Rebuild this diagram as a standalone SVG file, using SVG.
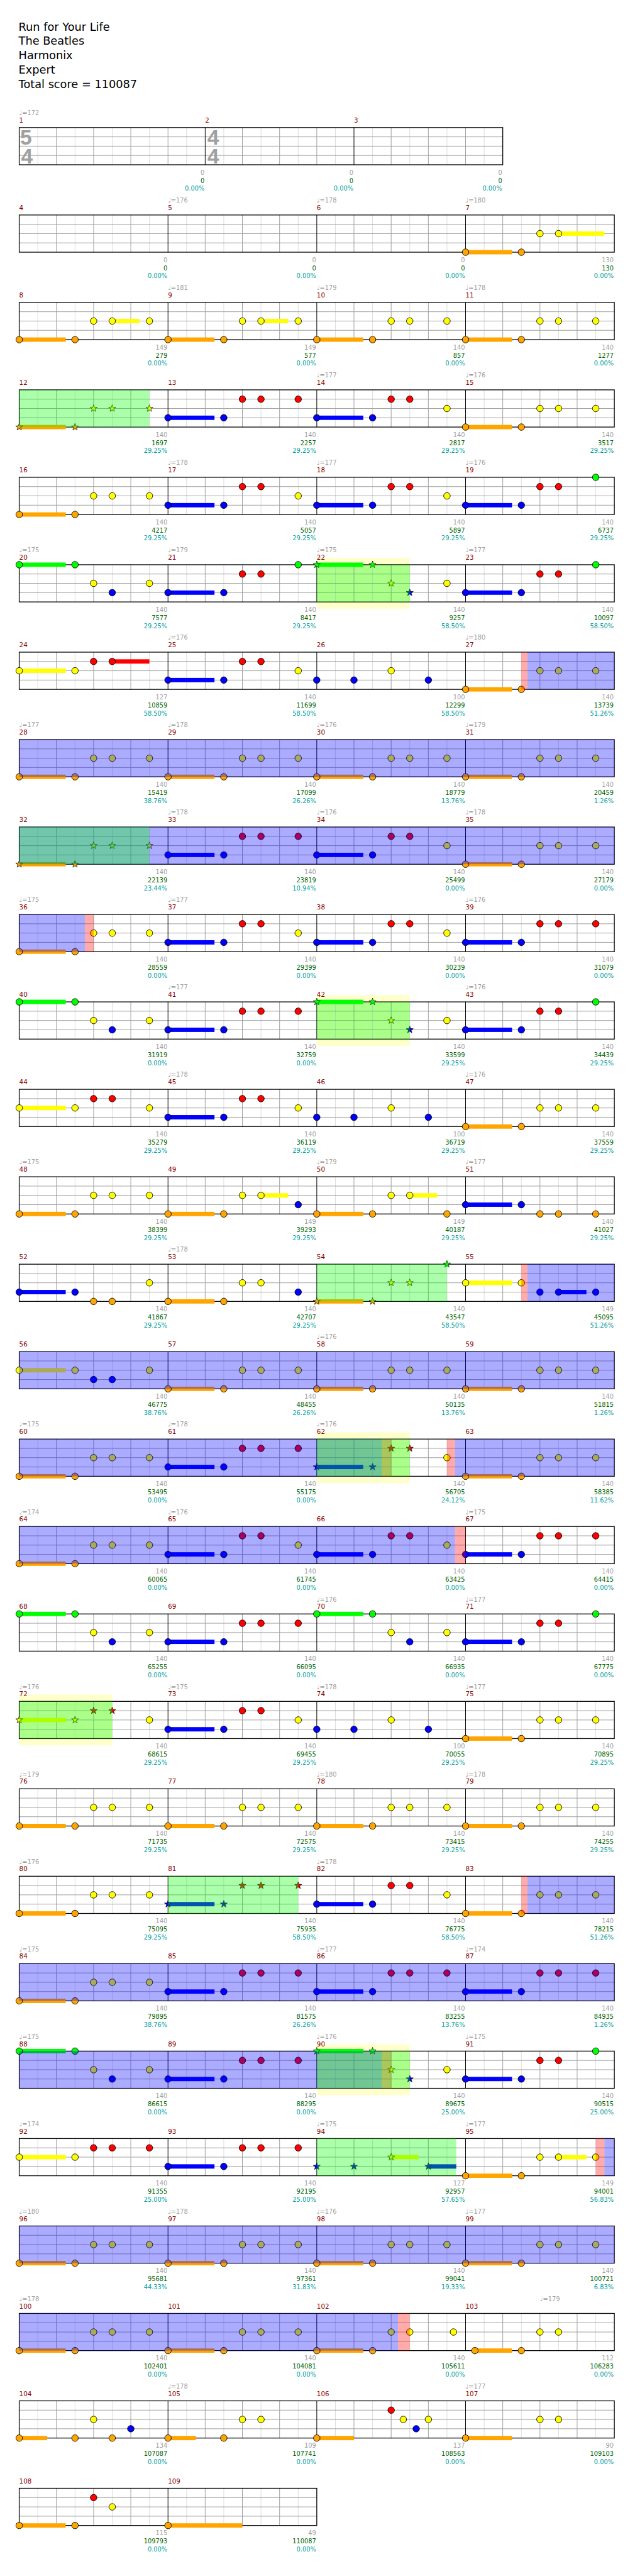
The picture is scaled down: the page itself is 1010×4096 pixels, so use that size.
<svg xmlns="http://www.w3.org/2000/svg" xmlns:xlink="http://www.w3.org/1999/xlink" width="1010" height="4096" viewBox="0 0 1010 4096">
<style>
text{font-family:"DejaVu Sans","Liberation Sans",sans-serif}
.ti{font-size:18px;fill:#000}
.t{font-size:10px;fill:#a0a0a0}
.mn{font-size:10.5px;fill:#8b0000}
.s1,.s2,.s3{font-size:10px;text-anchor:end}
.s1{fill:#a0a0a0}.s2{fill:#006400}.s3{fill:#00a0a0}
.ts{font-family:"Liberation Sans",sans-serif;font-weight:bold;font-size:34px;fill:#a0a0a0;text-anchor:middle}
.oG{fill:#00ff00;fill-opacity:.33}
.oB{fill:#0000ff;fill-opacity:.33}
.oR{fill:#ff0000;fill-opacity:.33}
.yl{fill:#ffffcc}
</style>
<defs>
<circle id="G" r="5.3" fill="#00ff00" stroke="#000" stroke-width=".9"/>
<circle id="R" r="5.3" fill="#ff0000" stroke="#000" stroke-width=".9"/>
<circle id="Y" r="5.3" fill="#ffff00" stroke="#000" stroke-width=".9"/>
<circle id="B" r="5.3" fill="#0000ff" stroke="#000" stroke-width=".9"/>
<circle id="O" r="5.3" fill="#ffa500" stroke="#000" stroke-width=".9"/>
<path id="sG" d="M0-6L1.41-1.94 5.71-1.85 2.28.74 3.53 4.85 0 2.4-3.53 4.85-2.28.74-5.71-1.85-1.41-1.94Z" fill="#00ff00" stroke="#000" stroke-width=".7"/>
<path id="sR" d="M0-6L1.41-1.94 5.71-1.85 2.28.74 3.53 4.85 0 2.4-3.53 4.85-2.28.74-5.71-1.85-1.41-1.94Z" fill="#ff0000" stroke="#000" stroke-width=".7"/>
<path id="sY" d="M0-6L1.41-1.94 5.71-1.85 2.28.74 3.53 4.85 0 2.4-3.53 4.85-2.28.74-5.71-1.85-1.41-1.94Z" fill="#ffff00" stroke="#000" stroke-width=".7"/>
<path id="sB" d="M0-6L1.41-1.94 5.71-1.85 2.28.74 3.53 4.85 0 2.4-3.53 4.85-2.28.74-5.71-1.85-1.41-1.94Z" fill="#0000ff" stroke="#000" stroke-width=".7"/>
<path id="sO" d="M0-6L1.41-1.94 5.71-1.85 2.28.74 3.53 4.85 0 2.4-3.53 4.85-2.28.74-5.71-1.85-1.41-1.94Z" fill="#ffa500" stroke="#000" stroke-width=".7"/>
<g id="st4">
<path d="M61 0V60M121 0V60M181 0V60M241 0V60M301 0V60M361 0V60M421 0V60M481 0V60M541 0V60M601 0V60M661 0V60M721 0V60M781 0V60M841 0V60M901 0V60M961 0V60" stroke="#dcdcdc" fill="none"/>
<path d="M91 0V60M151 0V60M211 0V60M331 0V60M391 0V60M451 0V60M571 0V60M631 0V60M691 0V60M811 0V60M871 0V60M931 0V60M31 15H991M31 30H991M31 45H991" stroke="#a0a0a0" fill="none"/>
<path d="M271 0V60M511 0V60M751 0V60" stroke="#000" fill="none"/>
<rect x="31" y="0" width="960" height="60" fill="none" stroke="#000" stroke-width="1.3"/>
</g>
<g id="st0">
<path d="M61 0V60M121 0V60M181 0V60M241 0V60M301 0V60M361 0V60M421 0V60M481 0V60M541 0V60M601 0V60M661 0V60M721 0V60M781 0V60" stroke="#dcdcdc" fill="none"/>
<path d="M91 0V60M151 0V60M211 0V60M271 0V60M391 0V60M451 0V60M511 0V60M631 0V60M691 0V60M751 0V60M31 15H811M31 30H811M31 45H811" stroke="#a0a0a0" fill="none"/>
<path d="M331 0V60M571 0V60" stroke="#000" fill="none"/>
<rect x="31" y="0" width="780" height="60" fill="none" stroke="#000" stroke-width="1.3"/>
</g>
<g id="st27">
<path d="M61 0V60M121 0V60M181 0V60M241 0V60M301 0V60M361 0V60M421 0V60M481 0V60" stroke="#dcdcdc" fill="none"/>
<path d="M91 0V60M151 0V60M211 0V60M331 0V60M391 0V60M451 0V60M31 15H511M31 30H511M31 45H511" stroke="#a0a0a0" fill="none"/>
<path d="M271 0V60" stroke="#000" fill="none"/>
<rect x="31" y="0" width="480" height="60" fill="none" stroke="#000" stroke-width="1.3"/>
</g>
<g id="pA"><rect x="0" y="56.5" width="75" height="7" fill="#ffa500"/><use href="#O" y="60"/><use href="#O" x="90" y="60"/><use href="#Y" x="120" y="30"/><use href="#Y" x="150" y="30"/><use href="#Y" x="210" y="30"/></g>
<g id="pAy"><rect x="0" y="56.5" width="75" height="7" fill="#ffa500"/><rect x="150" y="26.5" width="44" height="7" fill="#ffff00"/><use href="#O" y="60"/><use href="#O" x="90" y="60"/><use href="#Y" x="120" y="30"/><use href="#Y" x="150" y="30"/><use href="#Y" x="210" y="30"/></g>
<g id="pB"><rect x="0" y="41.5" width="75" height="7" fill="#0000ff"/><use href="#B" y="45"/><use href="#B" x="90" y="45"/><use href="#R" x="120" y="15"/><use href="#R" x="150" y="15"/><use href="#R" x="210" y="15"/></g>
<g id="pC"><rect x="0" y="41.5" width="75" height="7" fill="#0000ff"/><use href="#B" y="45"/><use href="#B" x="90" y="45"/><use href="#R" x="120" y="15"/><use href="#R" x="150" y="15"/><use href="#Y" x="210" y="30"/></g>
<g id="pD"><rect x="0" y="41.5" width="75" height="7" fill="#0000ff"/><use href="#B" y="45"/><use href="#B" x="90" y="45"/><use href="#R" x="120" y="15"/><use href="#R" x="150" y="15"/><use href="#G" x="210" y="0"/></g>
<g id="pE"><rect x="0" y="-3.5" width="75" height="7" fill="#00ff00"/><use href="#G"/><use href="#G" x="90"/><use href="#Y" x="120" y="30"/><use href="#B" x="150" y="45"/><use href="#Y" x="210" y="30"/></g>
<g id="pF"><use href="#B" y="45"/><use href="#B" x="60" y="45"/><use href="#Y" x="120" y="30"/><use href="#B" x="180" y="45"/></g>
<g id="pG"><rect x="0" y="26.5" width="75" height="7" fill="#ffff00"/><use href="#Y" y="30"/><use href="#Y" x="90" y="30"/><use href="#R" x="120" y="15"/><use href="#R" x="150" y="15"/><use href="#Y" x="210" y="30"/></g>
<g id="sA"><rect x="0" y="56.5" width="75" height="7" fill="#ffa500"/><use href="#sO" y="60"/><use href="#sO" x="90" y="60"/><use href="#sY" x="120" y="30"/><use href="#sY" x="150" y="30"/><use href="#sY" x="210" y="30"/></g>
<g id="sE"><rect x="0" y="-3.5" width="75" height="7" fill="#00ff00"/><use href="#sG"/><use href="#sG" x="90"/><use href="#sY" x="120" y="30"/><use href="#sB" x="150" y="45"/><use href="#Y" x="210" y="30"/></g>
</defs>
<rect x="0" y="0" width="1010" height="4096" fill="#fff"/>
<g transform="scale(0.986)">
<g id="title">
<text class="ti" x="30" y="49.3">Run for Your Life</text>
<text class="ti" x="30" y="72.4">The Beatles</text>
<text class="ti" x="30" y="95.5">Harmonix</text>
<text class="ti" x="30" y="118.6">Expert</text>
<text class="ti" x="30" y="141.7">Total score = 110087</text>
</g>

<g id="row-1" transform="translate(0,205.7)">
<use href="#st0"/>
<text class="ts" x="42" y="27.5">5</text><text class="ts" x="43.5" y="57.5">4</text>
<text class="ts" x="344" y="27.5">4</text><text class="ts" x="344" y="57.5">4</text>
<text class="t" x="31" y="-20">♩=172</text>
<text class="mn" x="31" y="-8">1</text><text class="mn" x="331" y="-8">2</text><text class="mn" x="571" y="-8">3</text>
<text class="s1" x="330" y="76">0</text><text class="s2" x="330" y="89">0</text><text class="s3" x="330" y="102">0.00%</text>
<text class="s1" x="570" y="76">0</text><text class="s2" x="570" y="89">0</text><text class="s3" x="570" y="102">0.00%</text>
<text class="s1" x="810" y="76">0</text><text class="s2" x="810" y="89">0</text><text class="s3" x="810" y="102">0.00%</text>
</g>

<g id="row-2" transform="translate(0,346.7)">
<use href="#st4"/>
<rect x="751" y="56.5" width="75" height="7" fill="#ffa500"/><rect x="901" y="26.5" width="74" height="7" fill="#ffff00"/>
<use href="#O" x="751" y="60"/><use href="#O" x="841" y="60"/><use href="#Y" x="871" y="30"/><use href="#Y" x="901" y="30"/>
<text class="t" x="271" y="-20">♩=176</text><text class="t" x="511" y="-20">♩=178</text><text class="t" x="751" y="-20">♩=180</text>
<text class="mn" x="31" y="-8">4</text><text class="mn" x="271" y="-8">5</text><text class="mn" x="511" y="-8">6</text><text class="mn" x="751" y="-8">7</text>
<text class="s1" x="270" y="76">0</text><text class="s2" x="270" y="89">0</text><text class="s3" x="270" y="102">0.00%</text>
<text class="s1" x="510" y="76">0</text><text class="s2" x="510" y="89">0</text><text class="s3" x="510" y="102">0.00%</text>
<text class="s1" x="750" y="76">0</text><text class="s2" x="750" y="89">0</text><text class="s3" x="750" y="102">0.00%</text>
<text class="s1" x="990" y="76">130</text><text class="s2" x="990" y="89">130</text><text class="s3" x="990" y="102">0.00%</text>
</g>

<g id="row-3" transform="translate(0,487.7)">
<use href="#st4"/>
<use href="#pAy" x="31"/><use href="#pAy" x="271"/><use href="#pA" x="511"/><use href="#pA" x="751"/>
<text class="t" x="271" y="-20">♩=181</text><text class="t" x="511" y="-20">♩=179</text><text class="t" x="751" y="-20">♩=178</text>
<text class="mn" x="31" y="-8">8</text><text class="mn" x="271" y="-8">9</text><text class="mn" x="511" y="-8">10</text><text class="mn" x="751" y="-8">11</text>
<text class="s1" x="270" y="76">149</text><text class="s2" x="270" y="89">279</text><text class="s3" x="270" y="102">0.00%</text>
<text class="s1" x="510" y="76">149</text><text class="s2" x="510" y="89">577</text><text class="s3" x="510" y="102">0.00%</text>
<text class="s1" x="750" y="76">140</text><text class="s2" x="750" y="89">857</text><text class="s3" x="750" y="102">0.00%</text>
<text class="s1" x="990" y="76">140</text><text class="s2" x="990" y="89">1277</text><text class="s3" x="990" y="102">0.00%</text>
</g>

<g id="row-4" transform="translate(0,628.7)">
<use href="#st4"/>
<use href="#sA" x="31"/><use href="#pB" x="271"/><use href="#pC" x="511"/><use href="#pA" x="751"/>
<rect class="oG" x="31" y="0" width="210" height="60"/>
<text class="t" x="511" y="-20">♩=177</text><text class="t" x="751" y="-20">♩=176</text>
<text class="mn" x="31" y="-8">12</text><text class="mn" x="271" y="-8">13</text><text class="mn" x="511" y="-8">14</text><text class="mn" x="751" y="-8">15</text>
<text class="s1" x="270" y="76">140</text><text class="s2" x="270" y="89">1697</text><text class="s3" x="270" y="102">29.25%</text>
<text class="s1" x="510" y="76">140</text><text class="s2" x="510" y="89">2257</text><text class="s3" x="510" y="102">29.25%</text>
<text class="s1" x="750" y="76">140</text><text class="s2" x="750" y="89">2817</text><text class="s3" x="750" y="102">29.25%</text>
<text class="s1" x="990" y="76">140</text><text class="s2" x="990" y="89">3517</text><text class="s3" x="990" y="102">29.25%</text>
</g>

<g id="row-5" transform="translate(0,769.7)">
<use href="#st4"/>
<use href="#pA" x="31"/><use href="#pC" x="271"/><use href="#pC" x="511"/><use href="#pD" x="751"/>
<text class="t" x="271" y="-20">♩=178</text><text class="t" x="511" y="-20">♩=177</text><text class="t" x="751" y="-20">♩=176</text>
<text class="mn" x="31" y="-8">16</text><text class="mn" x="271" y="-8">17</text><text class="mn" x="511" y="-8">18</text><text class="mn" x="751" y="-8">19</text>
<text class="s1" x="270" y="76">140</text><text class="s2" x="270" y="89">4217</text><text class="s3" x="270" y="102">29.25%</text>
<text class="s1" x="510" y="76">140</text><text class="s2" x="510" y="89">5057</text><text class="s3" x="510" y="102">29.25%</text>
<text class="s1" x="750" y="76">140</text><text class="s2" x="750" y="89">5897</text><text class="s3" x="750" y="102">29.25%</text>
<text class="s1" x="990" y="76">140</text><text class="s2" x="990" y="89">6737</text><text class="s3" x="990" y="102">29.25%</text>
</g>

<g id="row-6" transform="translate(0,910.7)">
<rect class="yl" x="511" y="-11" width="150" height="82"/>
<use href="#st4"/>
<use href="#pE" x="31"/><use href="#pD" x="271"/><use href="#sE" x="511"/><use href="#pD" x="751"/>
<rect class="oG" x="511" y="0" width="150" height="60"/>
<text class="t" x="31" y="-20">♩=175</text><text class="t" x="271" y="-20">♩=179</text><text class="t" x="511" y="-20">♩=175</text><text class="t" x="751" y="-20">♩=177</text>
<text class="mn" x="31" y="-8">20</text><text class="mn" x="271" y="-8">21</text><text class="mn" x="511" y="-8">22</text><text class="mn" x="751" y="-8">23</text>
<text class="s1" x="270" y="76">140</text><text class="s2" x="270" y="89">7577</text><text class="s3" x="270" y="102">29.25%</text>
<text class="s1" x="510" y="76">140</text><text class="s2" x="510" y="89">8417</text><text class="s3" x="510" y="102">29.25%</text>
<text class="s1" x="750" y="76">140</text><text class="s2" x="750" y="89">9257</text><text class="s3" x="750" y="102">58.50%</text>
<text class="s1" x="990" y="76">140</text><text class="s2" x="990" y="89">10097</text><text class="s3" x="990" y="102">58.50%</text>
</g>

<g id="row-7" transform="translate(0,1051.7)">
<use href="#st4"/>
<rect x="31" y="26.5" width="75" height="7" fill="#ffff00"/><rect x="181" y="11.5" width="60" height="7" fill="#ff0000"/>
<use href="#Y" x="31" y="30"/><use href="#Y" x="121" y="30"/><use href="#R" x="151" y="15"/><use href="#R" x="181" y="15"/>
<use href="#pC" x="271"/><use href="#pF" x="511"/><use href="#pA" x="751"/>
<rect class="oR" x="841" y="0" width="10" height="60"/><rect class="oB" x="851" y="0" width="140" height="60"/>
<text class="t" x="271" y="-20">♩=176</text><text class="t" x="751" y="-20">♩=180</text>
<text class="mn" x="31" y="-8">24</text><text class="mn" x="271" y="-8">25</text><text class="mn" x="511" y="-8">26</text><text class="mn" x="751" y="-8">27</text>
<text class="s1" x="270" y="76">127</text><text class="s2" x="270" y="89">10859</text><text class="s3" x="270" y="102">58.50%</text>
<text class="s1" x="510" y="76">140</text><text class="s2" x="510" y="89">11699</text><text class="s3" x="510" y="102">58.50%</text>
<text class="s1" x="750" y="76">100</text><text class="s2" x="750" y="89">12299</text><text class="s3" x="750" y="102">58.50%</text>
<text class="s1" x="990" y="76">140</text><text class="s2" x="990" y="89">13739</text><text class="s3" x="990" y="102">51.26%</text>
</g>

<g id="row-8" transform="translate(0,1192.7)">
<use href="#st4"/>
<use href="#pA" x="31"/><use href="#pA" x="271"/><use href="#pA" x="511"/><use href="#pA" x="751"/>
<rect class="oB" x="31" y="0" width="960" height="60"/>
<text class="t" x="31" y="-20">♩=177</text><text class="t" x="271" y="-20">♩=178</text><text class="t" x="511" y="-20">♩=176</text><text class="t" x="751" y="-20">♩=179</text>
<text class="mn" x="31" y="-8">28</text><text class="mn" x="271" y="-8">29</text><text class="mn" x="511" y="-8">30</text><text class="mn" x="751" y="-8">31</text>
<text class="s1" x="270" y="76">140</text><text class="s2" x="270" y="89">15419</text><text class="s3" x="270" y="102">38.76%</text>
<text class="s1" x="510" y="76">140</text><text class="s2" x="510" y="89">17099</text><text class="s3" x="510" y="102">26.26%</text>
<text class="s1" x="750" y="76">140</text><text class="s2" x="750" y="89">18779</text><text class="s3" x="750" y="102">13.76%</text>
<text class="s1" x="990" y="76">140</text><text class="s2" x="990" y="89">20459</text><text class="s3" x="990" y="102">1.26%</text>
</g>

<g id="row-9" transform="translate(0,1333.7)">
<use href="#st4"/>
<use href="#sA" x="31"/><use href="#pB" x="271"/><use href="#pC" x="511"/><use href="#pA" x="751"/>
<rect class="oB" x="31" y="0" width="960" height="60"/><rect class="oG" x="31" y="0" width="210" height="60"/>
<text class="t" x="271" y="-20">♩=178</text><text class="t" x="511" y="-20">♩=176</text><text class="t" x="751" y="-20">♩=178</text>
<text class="mn" x="31" y="-8">32</text><text class="mn" x="271" y="-8">33</text><text class="mn" x="511" y="-8">34</text><text class="mn" x="751" y="-8">35</text>
<text class="s1" x="270" y="76">140</text><text class="s2" x="270" y="89">22139</text><text class="s3" x="270" y="102">23.44%</text>
<text class="s1" x="510" y="76">140</text><text class="s2" x="510" y="89">23819</text><text class="s3" x="510" y="102">10.94%</text>
<text class="s1" x="750" y="76">140</text><text class="s2" x="750" y="89">25499</text><text class="s3" x="750" y="102">0.00%</text>
<text class="s1" x="990" y="76">140</text><text class="s2" x="990" y="89">27179</text><text class="s3" x="990" y="102">0.00%</text>
</g>

<g id="row-10" transform="translate(0,1474.7)">
<use href="#st4"/>
<use href="#pA" x="31"/><use href="#pC" x="271"/><use href="#pC" x="511"/><use href="#pB" x="751"/>
<rect class="oB" x="31" y="0" width="106" height="60"/><rect class="oR" x="137" y="0" width="14" height="60"/>
<text class="t" x="31" y="-20">♩=175</text><text class="t" x="271" y="-20">♩=177</text><text class="t" x="751" y="-20">♩=176</text>
<text class="mn" x="31" y="-8">36</text><text class="mn" x="271" y="-8">37</text><text class="mn" x="511" y="-8">38</text><text class="mn" x="751" y="-8">39</text>
<text class="s1" x="270" y="76">140</text><text class="s2" x="270" y="89">28559</text><text class="s3" x="270" y="102">0.00%</text>
<text class="s1" x="510" y="76">140</text><text class="s2" x="510" y="89">29399</text><text class="s3" x="510" y="102">0.00%</text>
<text class="s1" x="750" y="76">140</text><text class="s2" x="750" y="89">30239</text><text class="s3" x="750" y="102">0.00%</text>
<text class="s1" x="990" y="76">140</text><text class="s2" x="990" y="89">31079</text><text class="s3" x="990" y="102">0.00%</text>
</g>

<g id="row-11" transform="translate(0,1615.7)">
<rect class="yl" x="511" y="-11" width="150" height="82"/>
<use href="#st4"/>
<use href="#pE" x="31"/><use href="#pB" x="271"/><use href="#sE" x="511"/><use href="#pD" x="751"/>
<rect class="oG" x="511" y="0" width="150" height="60"/>
<text class="t" x="271" y="-20">♩=177</text><text class="t" x="751" y="-20">♩=176</text>
<text class="mn" x="31" y="-8">40</text><text class="mn" x="271" y="-8">41</text><text class="mn" x="511" y="-8">42</text><text class="mn" x="751" y="-8">43</text>
<text class="s1" x="270" y="76">140</text><text class="s2" x="270" y="89">31919</text><text class="s3" x="270" y="102">0.00%</text>
<text class="s1" x="510" y="76">140</text><text class="s2" x="510" y="89">32759</text><text class="s3" x="510" y="102">0.00%</text>
<text class="s1" x="750" y="76">140</text><text class="s2" x="750" y="89">33599</text><text class="s3" x="750" y="102">29.25%</text>
<text class="s1" x="990" y="76">140</text><text class="s2" x="990" y="89">34439</text><text class="s3" x="990" y="102">29.25%</text>
</g>

<g id="row-12" transform="translate(0,1756.7)">
<use href="#st4"/>
<use href="#pG" x="31"/><use href="#pC" x="271"/><use href="#pF" x="511"/><use href="#pA" x="751"/>
<text class="t" x="271" y="-20">♩=178</text><text class="t" x="751" y="-20">♩=176</text>
<text class="mn" x="31" y="-8">44</text><text class="mn" x="271" y="-8">45</text><text class="mn" x="511" y="-8">46</text><text class="mn" x="751" y="-8">47</text>
<text class="s1" x="270" y="76">140</text><text class="s2" x="270" y="89">35279</text><text class="s3" x="270" y="102">29.25%</text>
<text class="s1" x="510" y="76">140</text><text class="s2" x="510" y="89">36119</text><text class="s3" x="510" y="102">29.25%</text>
<text class="s1" x="750" y="76">100</text><text class="s2" x="750" y="89">36719</text><text class="s3" x="750" y="102">29.25%</text>
<text class="s1" x="990" y="76">140</text><text class="s2" x="990" y="89">37559</text><text class="s3" x="990" y="102">29.25%</text>
</g>

<g id="row-13" transform="translate(0,1897.7)">
<use href="#st4"/>
<use href="#pA" x="31"/>
<rect x="271" y="56.5" width="75" height="7" fill="#ffa500"/><rect x="421" y="26.5" width="44" height="7" fill="#ffff00"/>
<use href="#O" x="271" y="60"/><use href="#O" x="361" y="60"/><use href="#Y" x="391" y="30"/><use href="#Y" x="421" y="30"/><use href="#B" x="481" y="45"/>
<rect x="511" y="56.5" width="75" height="7" fill="#ffa500"/><rect x="661" y="26.5" width="44" height="7" fill="#ffff00"/>
<use href="#O" x="511" y="60"/><use href="#O" x="601" y="60"/><use href="#Y" x="631" y="30"/><use href="#Y" x="661" y="30"/><use href="#O" x="721" y="60"/>
<rect x="751" y="41.5" width="75" height="7" fill="#0000ff"/>
<use href="#B" x="751" y="45"/><use href="#B" x="841" y="45"/><use href="#O" x="871" y="60"/><use href="#O" x="901" y="60"/><use href="#O" x="961" y="60"/>
<text class="t" x="31" y="-20">♩=175</text><text class="t" x="511" y="-20">♩=179</text><text class="t" x="751" y="-20">♩=177</text>
<text class="mn" x="31" y="-8">48</text><text class="mn" x="271" y="-8">49</text><text class="mn" x="511" y="-8">50</text><text class="mn" x="751" y="-8">51</text>
<text class="s1" x="270" y="76">140</text><text class="s2" x="270" y="89">38399</text><text class="s3" x="270" y="102">29.25%</text>
<text class="s1" x="510" y="76">149</text><text class="s2" x="510" y="89">39293</text><text class="s3" x="510" y="102">29.25%</text>
<text class="s1" x="750" y="76">149</text><text class="s2" x="750" y="89">40187</text><text class="s3" x="750" y="102">29.25%</text>
<text class="s1" x="990" y="76">140</text><text class="s2" x="990" y="89">41027</text><text class="s3" x="990" y="102">29.25%</text>
</g>

<g id="row-14" transform="translate(0,2038.7)">
<use href="#st4"/>
<rect x="31" y="41.5" width="75" height="7" fill="#0000ff"/>
<use href="#B" x="31" y="45"/><use href="#B" x="121" y="45"/><use href="#O" x="151" y="60"/><use href="#O" x="181" y="60"/><use href="#Y" x="241" y="30"/>
<rect x="271" y="56.5" width="75" height="7" fill="#ffa500"/>
<use href="#O" x="271" y="60"/><use href="#O" x="361" y="60"/><use href="#Y" x="391" y="30"/><use href="#Y" x="421" y="30"/><use href="#B" x="481" y="45"/>
<rect x="511" y="56.5" width="75" height="7" fill="#ffa500"/>
<use href="#sO" x="511" y="60"/><use href="#sO" x="601" y="60"/><use href="#sY" x="631" y="30"/><use href="#sY" x="661" y="30"/><use href="#sG" x="721" y="0"/>
<rect x="751" y="26.5" width="75" height="7" fill="#ffff00"/><rect x="901" y="41.5" width="45" height="7" fill="#0000ff"/>
<use href="#Y" x="751" y="30"/><use href="#Y" x="841" y="30"/><use href="#B" x="871" y="45"/><use href="#B" x="901" y="45"/><use href="#B" x="961" y="45"/>
<rect class="oG" x="511" y="0" width="210" height="60"/><rect class="oR" x="841" y="0" width="10" height="60"/><rect class="oB" x="851" y="0" width="140" height="60"/>
<text class="t" x="271" y="-20">♩=178</text>
<text class="mn" x="31" y="-8">52</text><text class="mn" x="271" y="-8">53</text><text class="mn" x="511" y="-8">54</text><text class="mn" x="751" y="-8">55</text>
<text class="s1" x="270" y="76">140</text><text class="s2" x="270" y="89">41867</text><text class="s3" x="270" y="102">29.25%</text>
<text class="s1" x="510" y="76">140</text><text class="s2" x="510" y="89">42707</text><text class="s3" x="510" y="102">29.25%</text>
<text class="s1" x="750" y="76">140</text><text class="s2" x="750" y="89">43547</text><text class="s3" x="750" y="102">58.50%</text>
<text class="s1" x="990" y="76">149</text><text class="s2" x="990" y="89">45095</text><text class="s3" x="990" y="102">51.26%</text>
</g>

<g id="row-15" transform="translate(0,2179.7)">
<use href="#st4"/>
<rect x="31" y="26.5" width="75" height="7" fill="#ffff00"/>
<use href="#Y" x="31" y="30"/><use href="#Y" x="121" y="30"/><use href="#B" x="151" y="45"/><use href="#B" x="181" y="45"/><use href="#Y" x="241" y="30"/>
<use href="#pA" x="271"/><use href="#pA" x="511"/><use href="#pA" x="751"/>
<rect class="oB" x="31" y="0" width="960" height="60"/>
<text class="t" x="511" y="-20">♩=176</text>
<text class="mn" x="31" y="-8">56</text><text class="mn" x="271" y="-8">57</text><text class="mn" x="511" y="-8">58</text><text class="mn" x="751" y="-8">59</text>
<text class="s1" x="270" y="76">140</text><text class="s2" x="270" y="89">46775</text><text class="s3" x="270" y="102">38.76%</text>
<text class="s1" x="510" y="76">140</text><text class="s2" x="510" y="89">48455</text><text class="s3" x="510" y="102">26.26%</text>
<text class="s1" x="750" y="76">140</text><text class="s2" x="750" y="89">50135</text><text class="s3" x="750" y="102">13.76%</text>
<text class="s1" x="990" y="76">140</text><text class="s2" x="990" y="89">51815</text><text class="s3" x="990" y="102">1.26%</text>
</g>

<g id="row-16" transform="translate(0,2320.7)">
<rect class="yl" x="511" y="-11" width="150" height="82"/>
<use href="#st4"/>
<use href="#pA" x="31"/><use href="#pB" x="271"/>
<rect x="511" y="41.5" width="75" height="7" fill="#0000ff"/>
<use href="#sB" x="511" y="45"/><use href="#sB" x="601" y="45"/><use href="#sR" x="631" y="15"/><use href="#sR" x="661" y="15"/><use href="#Y" x="721" y="30"/>
<use href="#pA" x="751"/>
<rect class="oB" x="31" y="0" width="585" height="60"/><rect class="oR" x="616" y="0" width="15" height="60"/><rect class="oG" x="511" y="0" width="150" height="60"/>
<rect class="oR" x="721" y="0" width="13" height="60"/><rect class="oB" x="734" y="0" width="257" height="60"/>
<text class="t" x="31" y="-20">♩=175</text><text class="t" x="271" y="-20">♩=178</text><text class="t" x="511" y="-20">♩=176</text>
<text class="mn" x="31" y="-8">60</text><text class="mn" x="271" y="-8">61</text><text class="mn" x="511" y="-8">62</text><text class="mn" x="751" y="-8">63</text>
<text class="s1" x="270" y="76">140</text><text class="s2" x="270" y="89">53495</text><text class="s3" x="270" y="102">0.00%</text>
<text class="s1" x="510" y="76">140</text><text class="s2" x="510" y="89">55175</text><text class="s3" x="510" y="102">0.00%</text>
<text class="s1" x="750" y="76">140</text><text class="s2" x="750" y="89">56705</text><text class="s3" x="750" y="102">24.12%</text>
<text class="s1" x="990" y="76">140</text><text class="s2" x="990" y="89">58385</text><text class="s3" x="990" y="102">11.62%</text>
</g>

<g id="row-17" transform="translate(0,2461.7)">
<use href="#st4"/>
<use href="#pA" x="31"/><use href="#pC" x="271"/><use href="#pC" x="511"/><use href="#pB" x="751"/>
<rect class="oB" x="31" y="0" width="703" height="60"/><rect class="oR" x="734" y="0" width="17" height="60"/>
<text class="t" x="31" y="-20">♩=174</text><text class="t" x="271" y="-20">♩=176</text><text class="t" x="751" y="-20">♩=175</text>
<text class="mn" x="31" y="-8">64</text><text class="mn" x="271" y="-8">65</text><text class="mn" x="511" y="-8">66</text><text class="mn" x="751" y="-8">67</text>
<text class="s1" x="270" y="76">140</text><text class="s2" x="270" y="89">60065</text><text class="s3" x="270" y="102">0.00%</text>
<text class="s1" x="510" y="76">140</text><text class="s2" x="510" y="89">61745</text><text class="s3" x="510" y="102">0.00%</text>
<text class="s1" x="750" y="76">140</text><text class="s2" x="750" y="89">63425</text><text class="s3" x="750" y="102">0.00%</text>
<text class="s1" x="990" y="76">140</text><text class="s2" x="990" y="89">64415</text><text class="s3" x="990" y="102">0.00%</text>
</g>

<g id="row-18" transform="translate(0,2602.7)">
<use href="#st4"/>
<use href="#pE" x="31"/><use href="#pB" x="271"/><use href="#pE" x="511"/><use href="#pD" x="751"/>
<text class="t" x="511" y="-20">♩=176</text><text class="t" x="751" y="-20">♩=177</text>
<text class="mn" x="31" y="-8">68</text><text class="mn" x="271" y="-8">69</text><text class="mn" x="511" y="-8">70</text><text class="mn" x="751" y="-8">71</text>
<text class="s1" x="270" y="76">140</text><text class="s2" x="270" y="89">65255</text><text class="s3" x="270" y="102">0.00%</text>
<text class="s1" x="510" y="76">140</text><text class="s2" x="510" y="89">66095</text><text class="s3" x="510" y="102">0.00%</text>
<text class="s1" x="750" y="76">140</text><text class="s2" x="750" y="89">66935</text><text class="s3" x="750" y="102">0.00%</text>
<text class="s1" x="990" y="76">140</text><text class="s2" x="990" y="89">67775</text><text class="s3" x="990" y="102">0.00%</text>
</g>

<g id="row-19" transform="translate(0,2743.7)">
<rect class="yl" x="31" y="-11" width="150" height="82"/>
<use href="#st4"/>
<rect x="31" y="26.5" width="75" height="7" fill="#ffff00"/>
<use href="#sY" x="31" y="30"/><use href="#sY" x="121" y="30"/><use href="#sR" x="151" y="15"/><use href="#sR" x="181" y="15"/><use href="#Y" x="241" y="30"/>
<use href="#pC" x="271"/><use href="#pF" x="511"/><use href="#pA" x="751"/>
<rect class="oG" x="31" y="0" width="150" height="60"/>
<text class="t" x="31" y="-20">♩=176</text><text class="t" x="271" y="-20">♩=175</text><text class="t" x="511" y="-20">♩=178</text><text class="t" x="751" y="-20">♩=177</text>
<text class="mn" x="31" y="-8">72</text><text class="mn" x="271" y="-8">73</text><text class="mn" x="511" y="-8">74</text><text class="mn" x="751" y="-8">75</text>
<text class="s1" x="270" y="76">140</text><text class="s2" x="270" y="89">68615</text><text class="s3" x="270" y="102">29.25%</text>
<text class="s1" x="510" y="76">140</text><text class="s2" x="510" y="89">69455</text><text class="s3" x="510" y="102">29.25%</text>
<text class="s1" x="750" y="76">100</text><text class="s2" x="750" y="89">70055</text><text class="s3" x="750" y="102">29.25%</text>
<text class="s1" x="990" y="76">140</text><text class="s2" x="990" y="89">70895</text><text class="s3" x="990" y="102">29.25%</text>
</g>

<g id="row-20" transform="translate(0,2884.7)">
<use href="#st4"/>
<use href="#pA" x="31"/><use href="#pA" x="271"/><use href="#pA" x="511"/><use href="#pA" x="751"/>
<text class="t" x="31" y="-20">♩=179</text><text class="t" x="511" y="-20">♩=180</text><text class="t" x="751" y="-20">♩=178</text>
<text class="mn" x="31" y="-8">76</text><text class="mn" x="271" y="-8">77</text><text class="mn" x="511" y="-8">78</text><text class="mn" x="751" y="-8">79</text>
<text class="s1" x="270" y="76">140</text><text class="s2" x="270" y="89">71735</text><text class="s3" x="270" y="102">29.25%</text>
<text class="s1" x="510" y="76">140</text><text class="s2" x="510" y="89">72575</text><text class="s3" x="510" y="102">29.25%</text>
<text class="s1" x="750" y="76">140</text><text class="s2" x="750" y="89">73415</text><text class="s3" x="750" y="102">29.25%</text>
<text class="s1" x="990" y="76">140</text><text class="s2" x="990" y="89">74255</text><text class="s3" x="990" y="102">29.25%</text>
</g>

<g id="row-21" transform="translate(0,3025.7)">
<use href="#st4"/>
<use href="#pA" x="31"/>
<rect x="271" y="41.5" width="75" height="7" fill="#0000ff"/>
<use href="#sB" x="271" y="45"/><use href="#sB" x="361" y="45"/><use href="#sR" x="391" y="15"/><use href="#sR" x="421" y="15"/><use href="#sR" x="481" y="15"/>
<use href="#pC" x="511"/><use href="#pA" x="751"/>
<rect class="oG" x="271" y="0" width="210" height="60"/><rect class="oR" x="841" y="0" width="10" height="60"/><rect class="oB" x="851" y="0" width="140" height="60"/>
<text class="t" x="31" y="-20">♩=176</text><text class="t" x="511" y="-20">♩=178</text>
<text class="mn" x="31" y="-8">80</text><text class="mn" x="271" y="-8">81</text><text class="mn" x="511" y="-8">82</text><text class="mn" x="751" y="-8">83</text>
<text class="s1" x="270" y="76">140</text><text class="s2" x="270" y="89">75095</text><text class="s3" x="270" y="102">29.25%</text>
<text class="s1" x="510" y="76">140</text><text class="s2" x="510" y="89">75935</text><text class="s3" x="510" y="102">58.50%</text>
<text class="s1" x="750" y="76">140</text><text class="s2" x="750" y="89">76775</text><text class="s3" x="750" y="102">58.50%</text>
<text class="s1" x="990" y="76">140</text><text class="s2" x="990" y="89">78215</text><text class="s3" x="990" y="102">51.26%</text>
</g>

<g id="row-22" transform="translate(0,3166.7)">
<use href="#st4"/>
<use href="#pA" x="31"/><use href="#pB" x="271"/><use href="#pB" x="511"/><use href="#pB" x="751"/>
<rect class="oB" x="31" y="0" width="960" height="60"/>
<text class="t" x="31" y="-20">♩=175</text><text class="t" x="511" y="-20">♩=177</text><text class="t" x="751" y="-20">♩=174</text>
<text class="mn" x="31" y="-8">84</text><text class="mn" x="271" y="-8">85</text><text class="mn" x="511" y="-8">86</text><text class="mn" x="751" y="-8">87</text>
<text class="s1" x="270" y="76">140</text><text class="s2" x="270" y="89">79895</text><text class="s3" x="270" y="102">38.76%</text>
<text class="s1" x="510" y="76">140</text><text class="s2" x="510" y="89">81575</text><text class="s3" x="510" y="102">26.26%</text>
<text class="s1" x="750" y="76">140</text><text class="s2" x="750" y="89">83255</text><text class="s3" x="750" y="102">13.76%</text>
<text class="s1" x="990" y="76">140</text><text class="s2" x="990" y="89">84935</text><text class="s3" x="990" y="102">1.26%</text>
</g>

<g id="row-23" transform="translate(0,3307.7)">
<rect class="yl" x="511" y="-11" width="150" height="82"/>
<use href="#st4"/>
<use href="#pE" x="31"/><use href="#pB" x="271"/><use href="#sE" x="511"/><use href="#pD" x="751"/>
<rect class="oB" x="31" y="0" width="585" height="60"/><rect class="oR" x="616" y="0" width="15" height="60"/><rect class="oG" x="511" y="0" width="150" height="60"/>
<text class="t" x="31" y="-20">♩=175</text><text class="t" x="511" y="-20">♩=176</text><text class="t" x="751" y="-20">♩=175</text>
<text class="mn" x="31" y="-8">88</text><text class="mn" x="271" y="-8">89</text><text class="mn" x="511" y="-8">90</text><text class="mn" x="751" y="-8">91</text>
<text class="s1" x="270" y="76">140</text><text class="s2" x="270" y="89">86615</text><text class="s3" x="270" y="102">0.00%</text>
<text class="s1" x="510" y="76">140</text><text class="s2" x="510" y="89">88295</text><text class="s3" x="510" y="102">0.00%</text>
<text class="s1" x="750" y="76">140</text><text class="s2" x="750" y="89">89675</text><text class="s3" x="750" y="102">25.00%</text>
<text class="s1" x="990" y="76">140</text><text class="s2" x="990" y="89">90515</text><text class="s3" x="990" y="102">25.00%</text>
</g>

<g id="row-24" transform="translate(0,3448.7)">
<use href="#st4"/>
<rect x="31" y="26.5" width="75" height="7" fill="#ffff00"/>
<use href="#Y" x="31" y="30"/><use href="#Y" x="121" y="30"/><use href="#R" x="151" y="15"/><use href="#R" x="181" y="15"/><use href="#R" x="241" y="15"/>
<use href="#pB" x="271"/>
<rect x="631" y="26.5" width="44" height="7" fill="#ffff00"/><rect x="691" y="41.5" width="45" height="7" fill="#0000ff"/>
<use href="#sB" x="511" y="45"/><use href="#sB" x="571" y="45"/><use href="#sY" x="631" y="30"/><use href="#sB" x="691" y="45"/>
<rect x="751" y="56.5" width="75" height="7" fill="#ffa500"/><rect x="901" y="26.5" width="45" height="7" fill="#ffff00"/>
<use href="#O" x="751" y="60"/><use href="#O" x="841" y="60"/><use href="#Y" x="871" y="30"/><use href="#Y" x="901" y="30"/><use href="#Y" x="961" y="30"/>
<rect class="oG" x="511" y="0" width="225" height="60"/><rect class="oR" x="961" y="0" width="14" height="60"/><rect class="oB" x="975" y="0" width="16" height="60"/>
<text class="t" x="31" y="-20">♩=174</text><text class="t" x="511" y="-20">♩=175</text><text class="t" x="751" y="-20">♩=177</text>
<text class="mn" x="31" y="-8">92</text><text class="mn" x="271" y="-8">93</text><text class="mn" x="511" y="-8">94</text><text class="mn" x="751" y="-8">95</text>
<text class="s1" x="270" y="76">140</text><text class="s2" x="270" y="89">91355</text><text class="s3" x="270" y="102">25.00%</text>
<text class="s1" x="510" y="76">140</text><text class="s2" x="510" y="89">92195</text><text class="s3" x="510" y="102">25.00%</text>
<text class="s1" x="750" y="76">127</text><text class="s2" x="750" y="89">92957</text><text class="s3" x="750" y="102">57.65%</text>
<text class="s1" x="990" y="76">149</text><text class="s2" x="990" y="89">94001</text><text class="s3" x="990" y="102">56.83%</text>
</g>

<g id="row-25" transform="translate(0,3589.7)">
<use href="#st4"/>
<use href="#pA" x="31"/><use href="#pA" x="271"/><use href="#pA" x="511"/><use href="#pA" x="751"/>
<rect class="oB" x="31" y="0" width="960" height="60"/>
<text class="t" x="31" y="-20">♩=180</text><text class="t" x="271" y="-20">♩=178</text><text class="t" x="511" y="-20">♩=176</text><text class="t" x="751" y="-20">♩=177</text>
<text class="mn" x="31" y="-8">96</text><text class="mn" x="271" y="-8">97</text><text class="mn" x="511" y="-8">98</text><text class="mn" x="751" y="-8">99</text>
<text class="s1" x="270" y="76">140</text><text class="s2" x="270" y="89">95681</text><text class="s3" x="270" y="102">44.33%</text>
<text class="s1" x="510" y="76">140</text><text class="s2" x="510" y="89">97361</text><text class="s3" x="510" y="102">31.83%</text>
<text class="s1" x="750" y="76">140</text><text class="s2" x="750" y="89">99041</text><text class="s3" x="750" y="102">19.33%</text>
<text class="s1" x="990" y="76">140</text><text class="s2" x="990" y="89">100721</text><text class="s3" x="990" y="102">6.83%</text>
</g>

<g id="row-26" transform="translate(0,3730.7)">
<use href="#st4"/>
<use href="#pA" x="31"/><use href="#pA" x="271"/>
<rect x="511" y="56.5" width="75" height="7" fill="#ffa500"/>
<use href="#O" x="511" y="60"/><use href="#O" x="601" y="60"/><use href="#Y" x="631" y="30"/><use href="#Y" x="661" y="30"/><use href="#Y" x="731.5" y="30"/>
<rect x="766" y="56.5" width="60" height="7" fill="#ffa500"/>
<use href="#O" x="766" y="60"/><use href="#O" x="841" y="60"/><use href="#Y" x="871" y="30"/><use href="#Y" x="901" y="30"/>
<rect class="oB" x="31" y="0" width="611" height="60"/><rect class="oR" x="642" y="0" width="19" height="60"/>
<text class="t" x="31" y="-20">♩=178</text><text class="t" x="871" y="-20">♩=179</text>
<text class="mn" x="31" y="-8">100</text><text class="mn" x="271" y="-8">101</text><text class="mn" x="511" y="-8">102</text><text class="mn" x="751" y="-8">103</text>
<text class="s1" x="270" y="76">140</text><text class="s2" x="270" y="89">102401</text><text class="s3" x="270" y="102">0.00%</text>
<text class="s1" x="510" y="76">140</text><text class="s2" x="510" y="89">104081</text><text class="s3" x="510" y="102">0.00%</text>
<text class="s1" x="750" y="76">140</text><text class="s2" x="750" y="89">105611</text><text class="s3" x="750" y="102">0.00%</text>
<text class="s1" x="990" y="76">112</text><text class="s2" x="990" y="89">106283</text><text class="s3" x="990" y="102">0.00%</text>
</g>

<g id="row-27" transform="translate(0,3871.7)">
<use href="#st4"/>
<rect x="31" y="56.5" width="45" height="7" fill="#ffa500"/>
<use href="#O" x="31" y="60"/><use href="#O" x="121" y="60"/><use href="#Y" x="151" y="30"/><use href="#O" x="181" y="60"/><use href="#B" x="211" y="45"/>
<rect x="271" y="56.5" width="45" height="7" fill="#ffa500"/>
<use href="#O" x="271" y="60"/><use href="#O" x="361" y="60"/><use href="#Y" x="391" y="30"/><use href="#Y" x="421" y="30"/>
<rect x="511" y="56.5" width="60" height="7" fill="#ffa500"/>
<use href="#O" x="511" y="60"/><use href="#R" x="631" y="15"/><use href="#Y" x="650.5" y="30"/><use href="#B" x="671.4" y="45"/><use href="#Y" x="691" y="30"/>
<rect x="751" y="56.5" width="75" height="7" fill="#ffa500"/>
<use href="#O" x="751" y="60"/><use href="#Y" x="871" y="30"/><use href="#Y" x="901" y="30"/>
<text class="t" x="271" y="-20">♩=178</text><text class="t" x="751" y="-20">♩=177</text>
<text class="mn" x="31" y="-8">104</text><text class="mn" x="271" y="-8">105</text><text class="mn" x="511" y="-8">106</text><text class="mn" x="751" y="-8">107</text>
<text class="s1" x="270" y="76">134</text><text class="s2" x="270" y="89">107087</text><text class="s3" x="270" y="102">0.00%</text>
<text class="s1" x="510" y="76">109</text><text class="s2" x="510" y="89">107741</text><text class="s3" x="510" y="102">0.00%</text>
<text class="s1" x="750" y="76">137</text><text class="s2" x="750" y="89">108563</text><text class="s3" x="750" y="102">0.00%</text>
<text class="s1" x="990" y="76">90</text><text class="s2" x="990" y="89">109103</text><text class="s3" x="990" y="102">0.00%</text>
</g>

<g id="row-28" transform="translate(0,4012.7)">
<use href="#st27"/>
<rect x="31" y="56.5" width="75" height="7" fill="#ffa500"/>
<use href="#O" x="31" y="60"/><use href="#O" x="121" y="60"/><use href="#R" x="151" y="15"/><use href="#Y" x="181" y="30"/>
<rect x="271" y="56.5" width="120" height="7" fill="#ffa500"/>
<use href="#O" x="271" y="60"/>
<text class="mn" x="31" y="-8">108</text><text class="mn" x="271" y="-8">109</text>
<text class="s1" x="270" y="76">115</text><text class="s2" x="270" y="89">109793</text><text class="s3" x="270" y="102">0.00%</text>
<text class="s1" x="510" y="76">49</text><text class="s2" x="510" y="89">110087</text><text class="s3" x="510" y="102">0.00%</text>
</g>
</g>
</svg>
